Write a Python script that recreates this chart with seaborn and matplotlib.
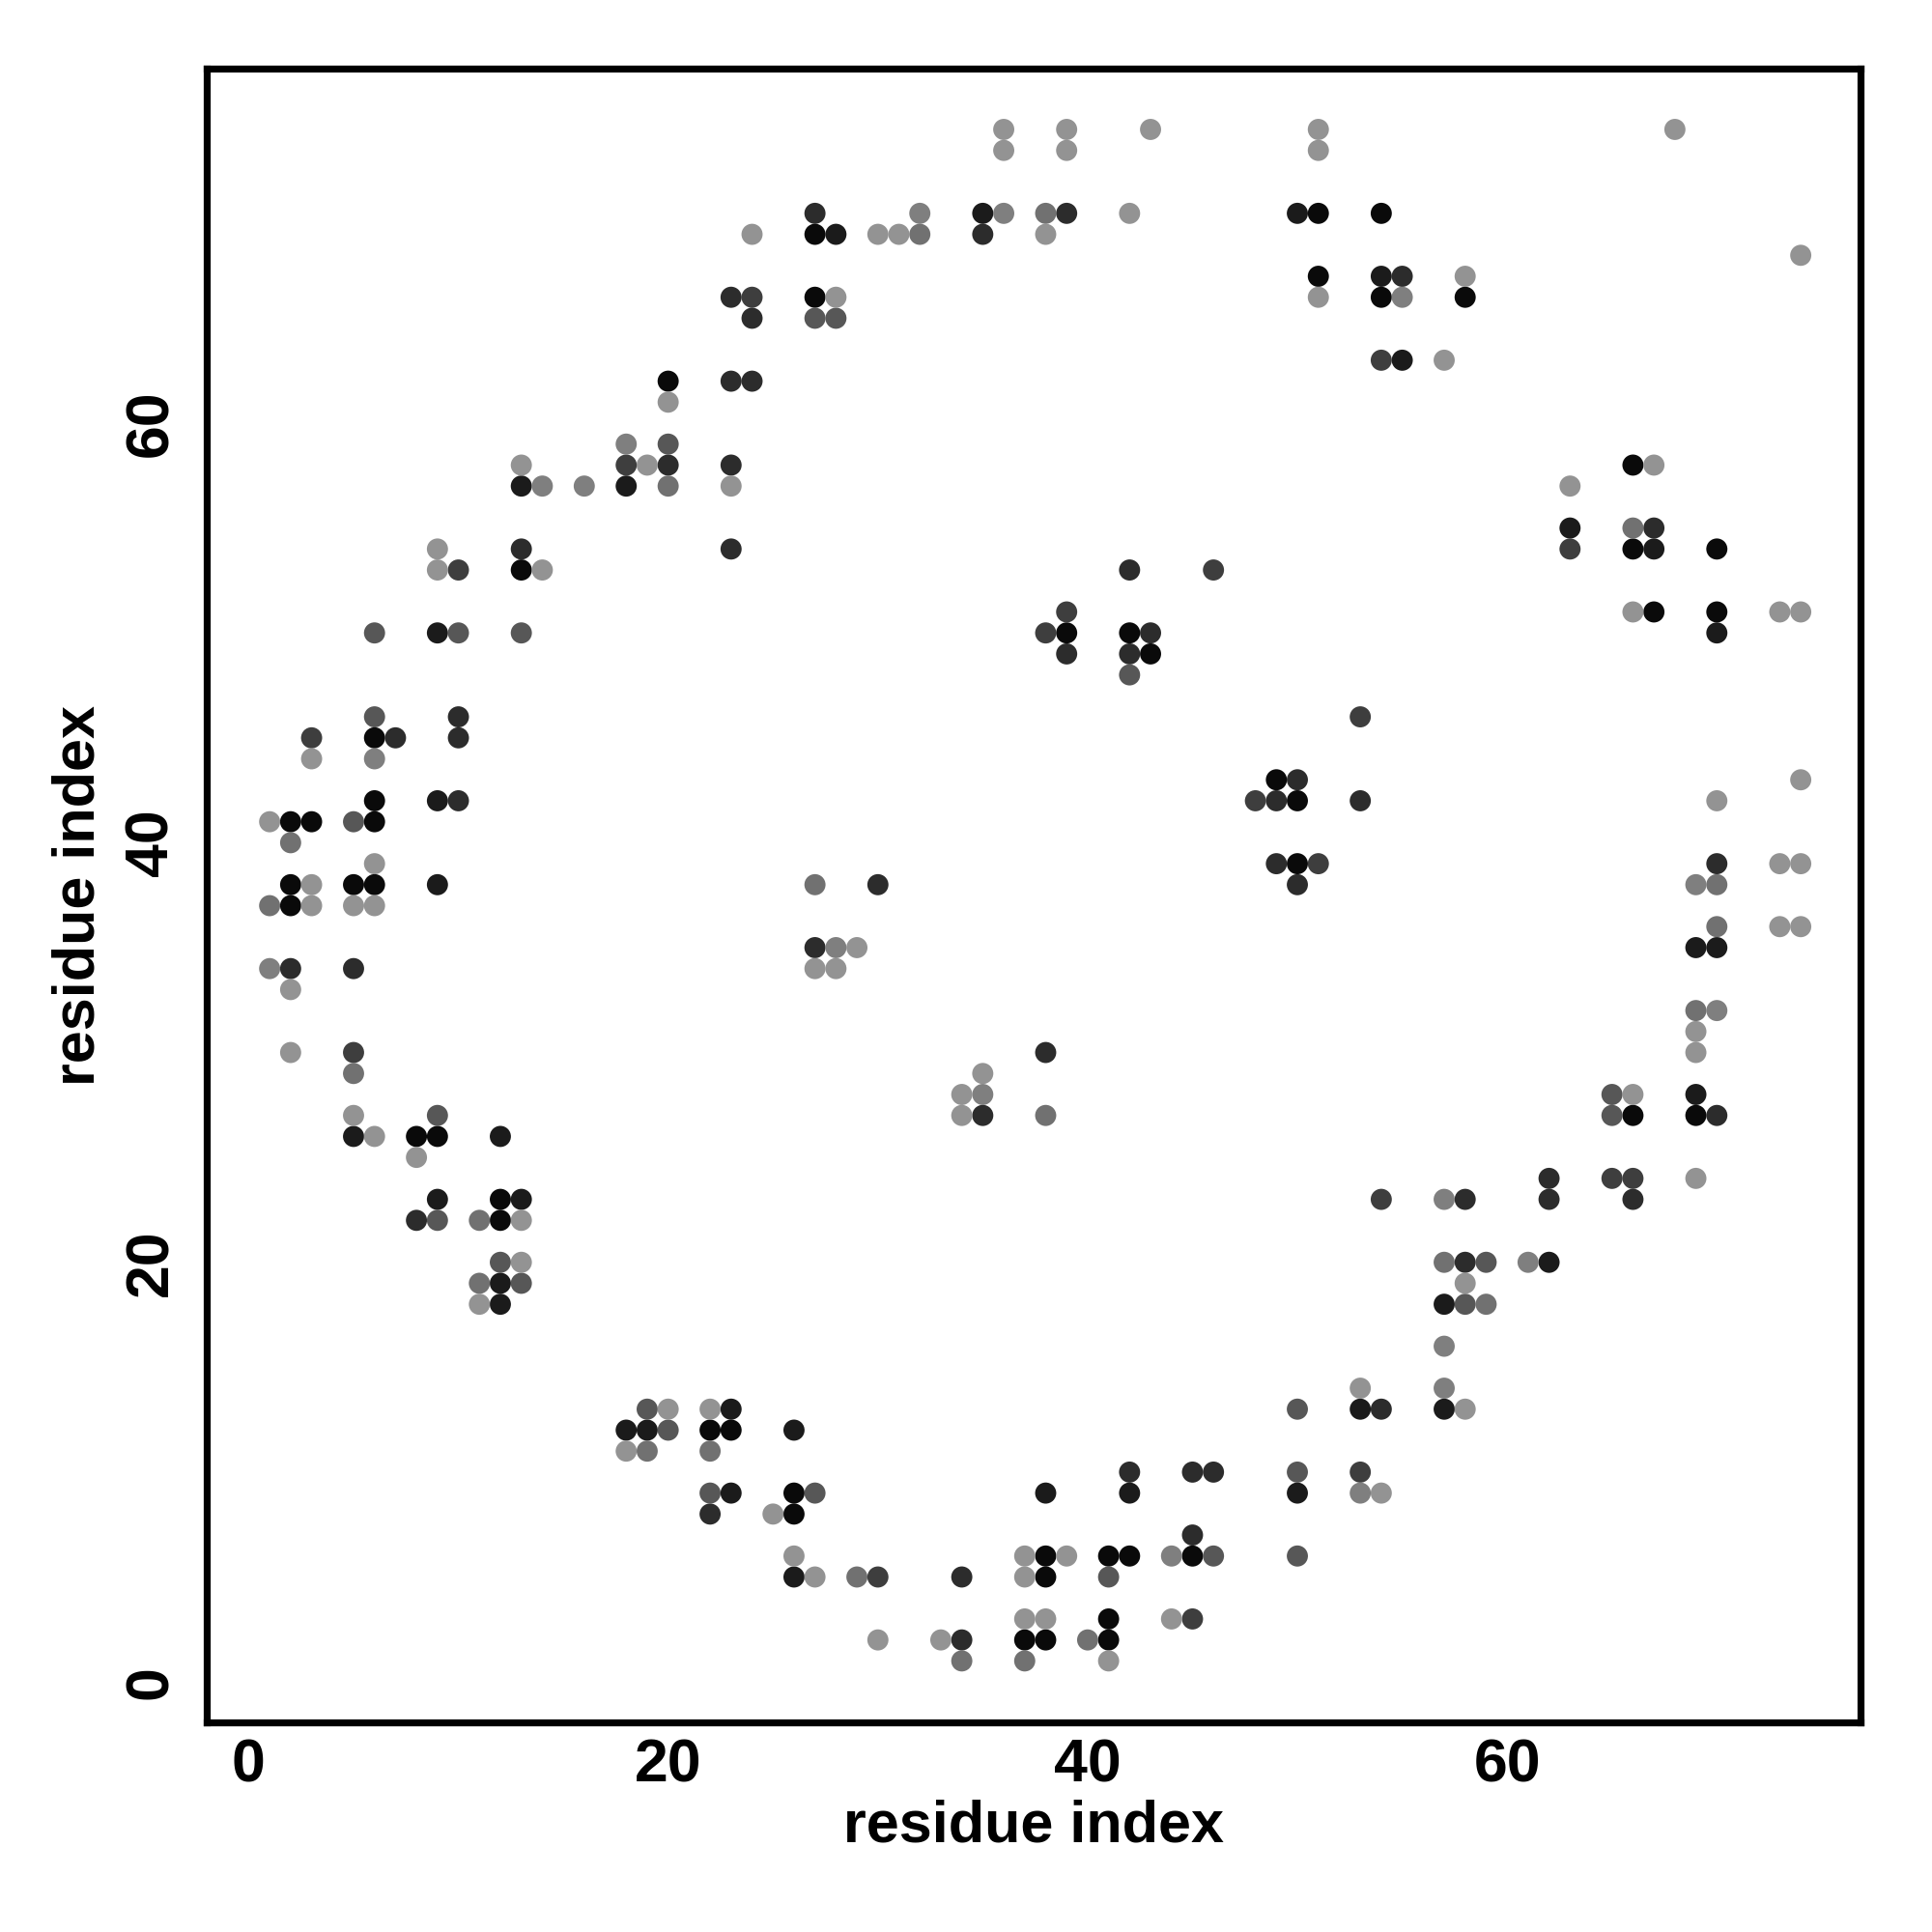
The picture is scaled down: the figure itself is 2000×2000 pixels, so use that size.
import pandas as pd
import seaborn as sns
import matplotlib.pyplot as plt
from matplotlib.colors import LinearSegmentedColormap

# contacts (residue i, residue j) grouped by how strong the contact is
contacts_k = [(20, 62), (51, 70), (27, 69), (51, 67), (27, 66), (39, 50), (42, 50), (43, 49),
              (54, 70), (54, 66), (58, 66), (66, 58), (66, 54), (70, 54), (67, 51), (70, 51),
              (13, 53), (6, 45), (6, 42), (2, 41), (3, 41), (6, 41), (2, 38), (5, 38), (6, 38),
              (2, 37), (8, 26), (9, 26), (12, 23), (12, 22), (49, 43), (50, 42), (50, 39),
              (22, 12), (23, 12), (26, 9), (26, 8), (38, 6), (38, 5), (37, 2), (38, 2), (41, 3),
              (41, 2), (41, 6), (42, 6), (45, 6), (66, 27), (69, 27)]
contacts_k2 = [(13, 57), (18, 57), (9, 50), (35, 70), (50, 70), (28, 69), (54, 67), (55, 63),
               (63, 55), (67, 54), (70, 50), (9, 42), (9, 38), (5, 26), (12, 26), (9, 23),
               (13, 23), (69, 35), (70, 35), (69, 28), (12, 19), (12, 18), (23, 13), (18, 12),
               (19, 12), (26, 12), (23, 9), (26, 5), (38, 9), (42, 9), (50, 9), (53, 13),
               (62, 20), (57, 18), (57, 13)]
contacts_d = [(23, 66), (24, 65), (23, 62), (24, 62), (20, 58), (23, 58), (13, 54), (23, 54),
              (27, 70), (39, 70), (35, 69), (42, 53), (43, 50), (39, 49), (42, 49), (55, 67),
              (67, 55), (10, 46), (7, 45), (10, 45), (10, 42), (2, 34), (5, 34), (8, 22),
              (50, 43), (49, 42), (53, 42), (49, 39), (50, 38), (30, 38), (27, 35), (38, 30),
              (35, 27), (70, 39), (70, 27), (62, 24), (62, 23), (66, 23), (58, 23), (22, 8),
              (34, 5), (34, 2), (42, 10), (45, 7), (45, 10), (46, 10), (58, 20), (54, 13)]
contacts_d2 = [(24, 66), (18, 58), (10, 53), (46, 53), (39, 51), (38, 50), (54, 63), (63, 54),
               (3, 45), (5, 30), (53, 46), (48, 42), (51, 39), (65, 24), (66, 24), (54, 23),
               (30, 5), (45, 3), (53, 10)]
contacts_m = [(20, 59), (6, 50), (10, 50), (13, 50), (27, 65), (28, 65), (42, 48), (6, 46),
              (5, 41), (9, 27), (9, 22), (65, 28), (65, 27), (12, 20), (13, 19), (19, 13),
              (20, 12), (22, 9), (27, 9), (41, 5), (46, 6), (50, 13), (50, 10), (50, 6),
              (59, 20), (58, 18)]
contacts_m2 = [(20, 57), (32, 69), (38, 70), (66, 55), (2, 40), (1, 37), (5, 29), (11, 22),
               (27, 38), (38, 27), (70, 38), (70, 36), (69, 32), (11, 19), (19, 11), (22, 11),
               (29, 5), (34, 1), (37, 1), (40, 2), (57, 20), (59, 18)]
contacts_l2 = [(18, 59), (14, 57), (16, 57), (32, 70), (36, 70), (55, 66), (6, 44), (1, 34),
               (28, 35), (35, 28), (69, 38), (70, 32), (44, 6), (53, 9), (61, 20), (57, 16),
               (57, 14), (57, 23)]
contacts_l = [(24, 69), (20, 61), (13, 58), (19, 58), (23, 57), (9, 54), (9, 53), (14, 53),
              (36, 74), (39, 74), (43, 74), (51, 74), (36, 73), (39, 73), (51, 73), (42, 70),
              (30, 69), (31, 69), (38, 69), (28, 66), (51, 66), (68, 74), (74, 68), (58, 67),
              (57, 63), (67, 58), (63, 57), (66, 51), (73, 51), (74, 51), (3, 44), (1, 41),
              (6, 39), (3, 38), (3, 37), (5, 37), (6, 37), (2, 33), (2, 30), (5, 27), (6, 26),
              (8, 25), (13, 22), (29, 35), (27, 34), (28, 34), (35, 29), (34, 28), (34, 27),
              (74, 43), (70, 42), (73, 39), (74, 39), (73, 36), (74, 36), (69, 31), (69, 30),
              (66, 28), (69, 24), (13, 20), (11, 18), (20, 13), (22, 13), (18, 11), (25, 8),
              (26, 6), (27, 5), (30, 2), (33, 2), (37, 6), (39, 6), (37, 5), (37, 3), (38, 3),
              (41, 1), (44, 3), (53, 14), (58, 19), (58, 13), (54, 9)]

# contact probability of each group
group_probs = [1.0, 0.9, 0.8, 0.7, 0.55, 0.4, 0.32, 0.2]
groups = [contacts_k, contacts_k2, contacts_d, contacts_d2,
          contacts_m, contacts_m2, contacts_l2, contacts_l]

rows = []
for prob, pts in zip(group_probs, groups):
    for i, j in pts:
        rows.append({'i': i, 'j': j, 'prob': prob})
df = pd.DataFrame(rows)

sns.set_theme(style='white')
plt.rcParams['font.family'] = ['Liberation Sans', 'DejaVu Sans']
plt.rcParams['font.weight'] = 'bold'

grey_cmap = LinearSegmentedColormap.from_list('greys', ['#939393', '#0a0a0a'])

fig = plt.figure(figsize=(10, 10), dpi=200)
ax = fig.add_axes([0.107, 0.1085, 0.856, 0.856])

sns.scatterplot(data=df, x='i', y='j', hue='prob', palette=grey_cmap, hue_norm=(0.2, 1.0),
                s=62, linewidth=0, legend=False, ax=ax)

ax.set_xlim(-2.0, 76.85)
ax.set_ylim(-1.93, 76.9)
ax.set_xticks([0, 20, 40, 60])
ax.set_yticks([0, 20, 40, 60])

for side in ['left', 'right', 'top', 'bottom']:
    ax.spines[side].set_color('black')
    ax.spines[side].set_linewidth(2.6)

ax.tick_params(axis='both', which='major', direction='out', length=4, width=1.5,
               color='black', labelsize=22.5, labelcolor='black')
ax.tick_params(axis='x', pad=1.5)
ax.tick_params(axis='y', pad=6)
for lab in ax.get_xticklabels():
    lab.set_fontweight('bold')
for lab in ax.get_yticklabels():
    lab.set_fontweight('bold')
    lab.set_rotation(90)
    lab.set_va('center')

ax.set_xlabel('residue index', fontsize=22, fontweight='bold', color='black', labelpad=2)
ax.set_ylabel('residue index', fontsize=22, fontweight='bold', color='black', labelpad=6)

fig.savefig('out.png', dpi=200, facecolor='white')
